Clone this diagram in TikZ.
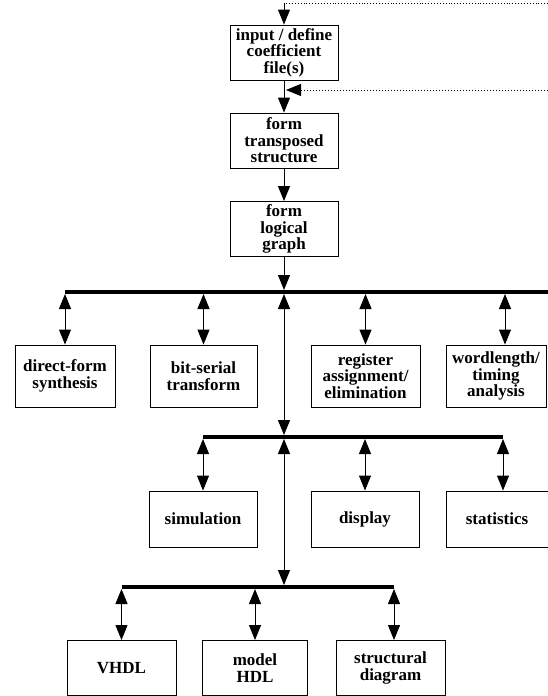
\documentclass[tikz,border=0pt]{standalone}
\usepackage{fontspec}
\setmainfont{Liberation Serif}
\usetikzlibrary{arrows.meta}

\begin{document}
\begin{tikzpicture}[x=1pt, y=-1pt,
    blk/.style={draw, line width=0.9pt, align=center, minimum width=108pt, minimum height=55pt, inner sep=1pt, font=\fontsize{17}{16.5}\selectfont\bfseries},
    bus/.style={line width=4.5pt},
    link/.style={line width=1pt, >={Triangle[length=15pt,width=12pt]}},
    fb/.style={dotted, line width=0.9pt}]
  \useasboundingbox (0,0) rectangle (548,696);

  % main chain
  \node[blk] (inp) at (284,52.5) {input / define\\coefficient\\file(s)};
  \node[blk] (trn) at (284,140.5) {form\\transposed\\structure};
  \node[blk] (lg) at (284,229) {form\\logical\\graph};

  % first row
  \node[blk, minimum width=100pt, minimum height=62pt] (df) at (65,376) {direct-form\\synthesis};
  \node[blk, minimum width=107pt, minimum height=62pt] (bs) at (203.5,376) {bit-serial\\transform};
  \node[blk, minimum width=109pt, minimum height=62pt] (rg) at (365.5,376) {register\\assignment/\\elimination};
  \node[blk, minimum width=100pt, minimum height=62pt] (wl) at (496,376) {wordlength/\\timing\\analysis};

  % second row
  \node[blk, minimum height=56pt] (sim) at (203,519) {simulation};
  \node[blk, minimum height=56pt] (disp) at (365,519) {display};
  \node[blk, minimum width=102pt, minimum height=56pt] (stat) at (497,519) {statistics};

  % third row
  \node[blk, minimum width=109pt] (vhdl) at (121.5,668) {VHDL};
  \node[blk, minimum width=105pt] (mhdl) at (255,668) {model\\HDL};
  \node[blk, minimum width=109pt] (str) at (390.5,668) {structural\\diagram};

  % arrow points off centre
  \coordinate (wlt) at ([xshift=9pt]wl.north);
  \coordinate (statt) at ([xshift=6pt]stat.north);
  \coordinate (strt) at ([xshift=3.5pt]str.north);

  % busses
  \coordinate (bus1w) at (df.north |- 0,292);
  \coordinate (bus1e) at (548,292);
  \coordinate (bus2w) at (sim.north |- 0,437);
  \coordinate (bus2e) at (statt |- bus2w);
  \coordinate (bus3w) at (vhdl.north |- 0,587);
  \coordinate (bus3e) at (strt |- bus3w);
  \draw[bus] (bus1w) -- (bus1e);
  \draw[bus] (bus2w) -- (bus2e);
  \draw[bus] (bus3w) -- (bus3e);

  % feedback lines
  \coordinate (fb1) at (548,3);
  \coordinate (fb1c) at (inp.north |- fb1);
  \coordinate (fb2) at (548,90);
  \coordinate (fb2c) at ([xshift=2pt]inp.south |- fb2);
  \draw[fb] (fb1) -- (fb1c);
  \draw[link,->] (fb1c) -- (inp.north);
  \draw[link,fb,->] (fb2) -- (fb2c);

  \draw[link,->] (inp) -- (trn);
  \draw[link,->] (trn) -- (lg);
  \draw[link,->, shorten >=2pt] (lg) -- (lg.south |- bus1w);
  \draw[link,<->, shorten <=2pt, shorten >=2pt] (lg.south |- bus1w) -- (lg.south |- bus2w);
  \draw[link,<->, shorten <=2pt, shorten >=2pt] (lg.south |- bus2w) -- (lg.south |- bus3w);

  \draw[link,<->, shorten <=2pt] (df.north |- bus1w) -- (df.north);
  \draw[link,<->, shorten <=2pt] (bs.north |- bus1w) -- (bs.north);
  \draw[link,<->, shorten <=2pt] (rg.north |- bus1w) -- (rg.north);
  \draw[link,<->, shorten <=2pt] (wlt |- bus1w) -- (wlt);

  \draw[link,<->, shorten <=2pt] (sim.north |- bus2w) -- (sim.north);
  \draw[link,<->, shorten <=2pt] (disp.north |- bus2w) -- (disp.north);
  \draw[link,<->, shorten <=2pt] (statt |- bus2w) -- (statt);

  \draw[link,<->, shorten <=2pt] (vhdl.north |- bus3w) -- (vhdl.north);
  \draw[link,<->, shorten <=2pt] (mhdl.north |- bus3w) -- (mhdl.north);
  \draw[link,<->, shorten <=2pt] (strt |- bus3w) -- (strt);
\end{tikzpicture}
\end{document}
